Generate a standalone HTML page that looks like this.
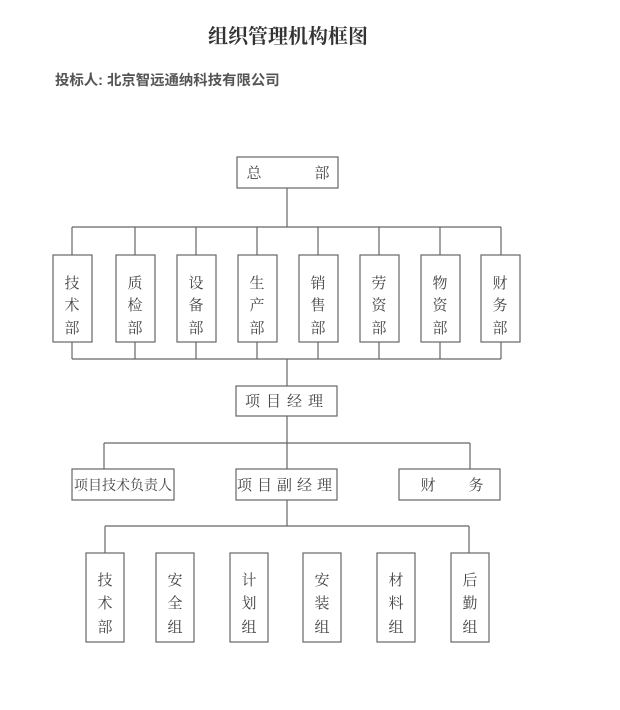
<!DOCTYPE html>
<html><head><meta charset="utf-8"><style>
html,body{margin:0;padding:0;background:#fff;}
svg{display:block;}
text{font-family:"Liberation Serif","Noto Serif CJK SC","Noto Sans CJK SC",serif;fill:#444;}
</style></head><body>
<svg width="620" height="710" viewBox="0 0 620 710" xmlns="http://www.w3.org/2000/svg">
<text x="288" y="43" font-size="20" font-weight="bold" text-anchor="middle" style="fill:#333">组织管理机构框图</text>
<text x="55" y="85" font-size="14.4" font-weight="bold" style="fill:#555;font-family:'Liberation Sans','Noto Sans CJK SC',sans-serif">投标人: 北京智远通纳科技有限公司</text>
<g stroke="#666" stroke-width="1.2" fill="none">
<rect x="237" y="157" width="101" height="31"/>
<line x1="287" y1="188" x2="287" y2="227"/>
<line x1="72" y1="227" x2="501" y2="227"/>
<line x1="72" y1="227" x2="72" y2="255"/><line x1="135" y1="227" x2="135" y2="255"/>
<line x1="196" y1="227" x2="196" y2="255"/><line x1="257" y1="227" x2="257" y2="255"/>
<line x1="318" y1="227" x2="318" y2="255"/><line x1="379" y1="227" x2="379" y2="255"/>
<line x1="440" y1="227" x2="440" y2="255"/><line x1="501" y1="227" x2="501" y2="255"/>
<rect x="53" y="255" width="39" height="87"/><rect x="116" y="255" width="39" height="87"/>
<rect x="177" y="255" width="39" height="87"/><rect x="238" y="255" width="39" height="87"/>
<rect x="299" y="255" width="39" height="87"/><rect x="360" y="255" width="39" height="87"/>
<rect x="421" y="255" width="39" height="87"/><rect x="481" y="255" width="39" height="87"/>
<line x1="72" y1="342" x2="72" y2="359"/><line x1="135" y1="342" x2="135" y2="359"/>
<line x1="196" y1="342" x2="196" y2="359"/><line x1="257" y1="342" x2="257" y2="359"/>
<line x1="318" y1="342" x2="318" y2="359"/><line x1="379" y1="342" x2="379" y2="359"/>
<line x1="440" y1="342" x2="440" y2="359"/><line x1="501" y1="342" x2="501" y2="359"/>
<line x1="72" y1="359" x2="501" y2="359"/>
<line x1="287" y1="359" x2="287" y2="386"/>
<rect x="236" y="386" width="101" height="30"/>
<line x1="287" y1="416" x2="287" y2="469"/>
<line x1="104" y1="443" x2="470" y2="443"/>
<line x1="104" y1="443" x2="104" y2="469"/><line x1="470" y1="443" x2="470" y2="469"/>
<rect x="72" y="469" width="102" height="31"/>
<rect x="236" y="469" width="101" height="31"/>
<rect x="399" y="469" width="101" height="31"/>
<line x1="287" y1="500" x2="287" y2="526"/>
<line x1="105" y1="526" x2="469" y2="526"/>
<line x1="105" y1="526" x2="105" y2="553"/><line x1="469" y1="526" x2="469" y2="553"/>
<rect x="86" y="553" width="38" height="89"/><rect x="156" y="553" width="38" height="89"/>
<rect x="230" y="553" width="38" height="89"/><rect x="303" y="553" width="38" height="89"/>
<rect x="377" y="553" width="38" height="89"/><rect x="451" y="553" width="38" height="89"/>
</g>
<g font-size="15" text-anchor="middle">
<text x="254" y="178">总</text><text x="322" y="178">部</text>
<g><text x="72" y="288">技</text><text x="72" y="310">术</text><text x="72" y="333">部</text></g>
<g><text x="135" y="288">质</text><text x="135" y="310">检</text><text x="135" y="333">部</text></g>
<g><text x="196" y="288">设</text><text x="196" y="310">备</text><text x="196" y="333">部</text></g>
<g><text x="257" y="288">生</text><text x="257" y="310">产</text><text x="257" y="333">部</text></g>
<g><text x="318" y="288">销</text><text x="318" y="310">售</text><text x="318" y="333">部</text></g>
<g><text x="379" y="288">劳</text><text x="379" y="310">资</text><text x="379" y="333">部</text></g>
<g><text x="440" y="288">物</text><text x="440" y="310">资</text><text x="440" y="333">部</text></g>
<g><text x="500" y="288">财</text><text x="500" y="310">务</text><text x="500" y="333">部</text></g>
<text x="287" y="406" letter-spacing="6">项目经理</text>
<text x="123" y="490" font-size="14">项目技术负责人</text>
<text x="287" y="490" letter-spacing="5">项目副经理</text>
<text x="428" y="490">财</text><text x="476" y="490">务</text>
<g><text x="105" y="585">技</text><text x="105" y="608">术</text><text x="105" y="632">部</text></g>
<g><text x="175" y="585">安</text><text x="175" y="608">全</text><text x="175" y="632">组</text></g>
<g><text x="249" y="585">计</text><text x="249" y="608">划</text><text x="249" y="632">组</text></g>
<g><text x="322" y="585">安</text><text x="322" y="608">装</text><text x="322" y="632">组</text></g>
<g><text x="396" y="585">材</text><text x="396" y="608">料</text><text x="396" y="632">组</text></g>
<g><text x="470" y="585">后</text><text x="470" y="608">勤</text><text x="470" y="632">组</text></g>
</g>
</svg>
</body></html>
